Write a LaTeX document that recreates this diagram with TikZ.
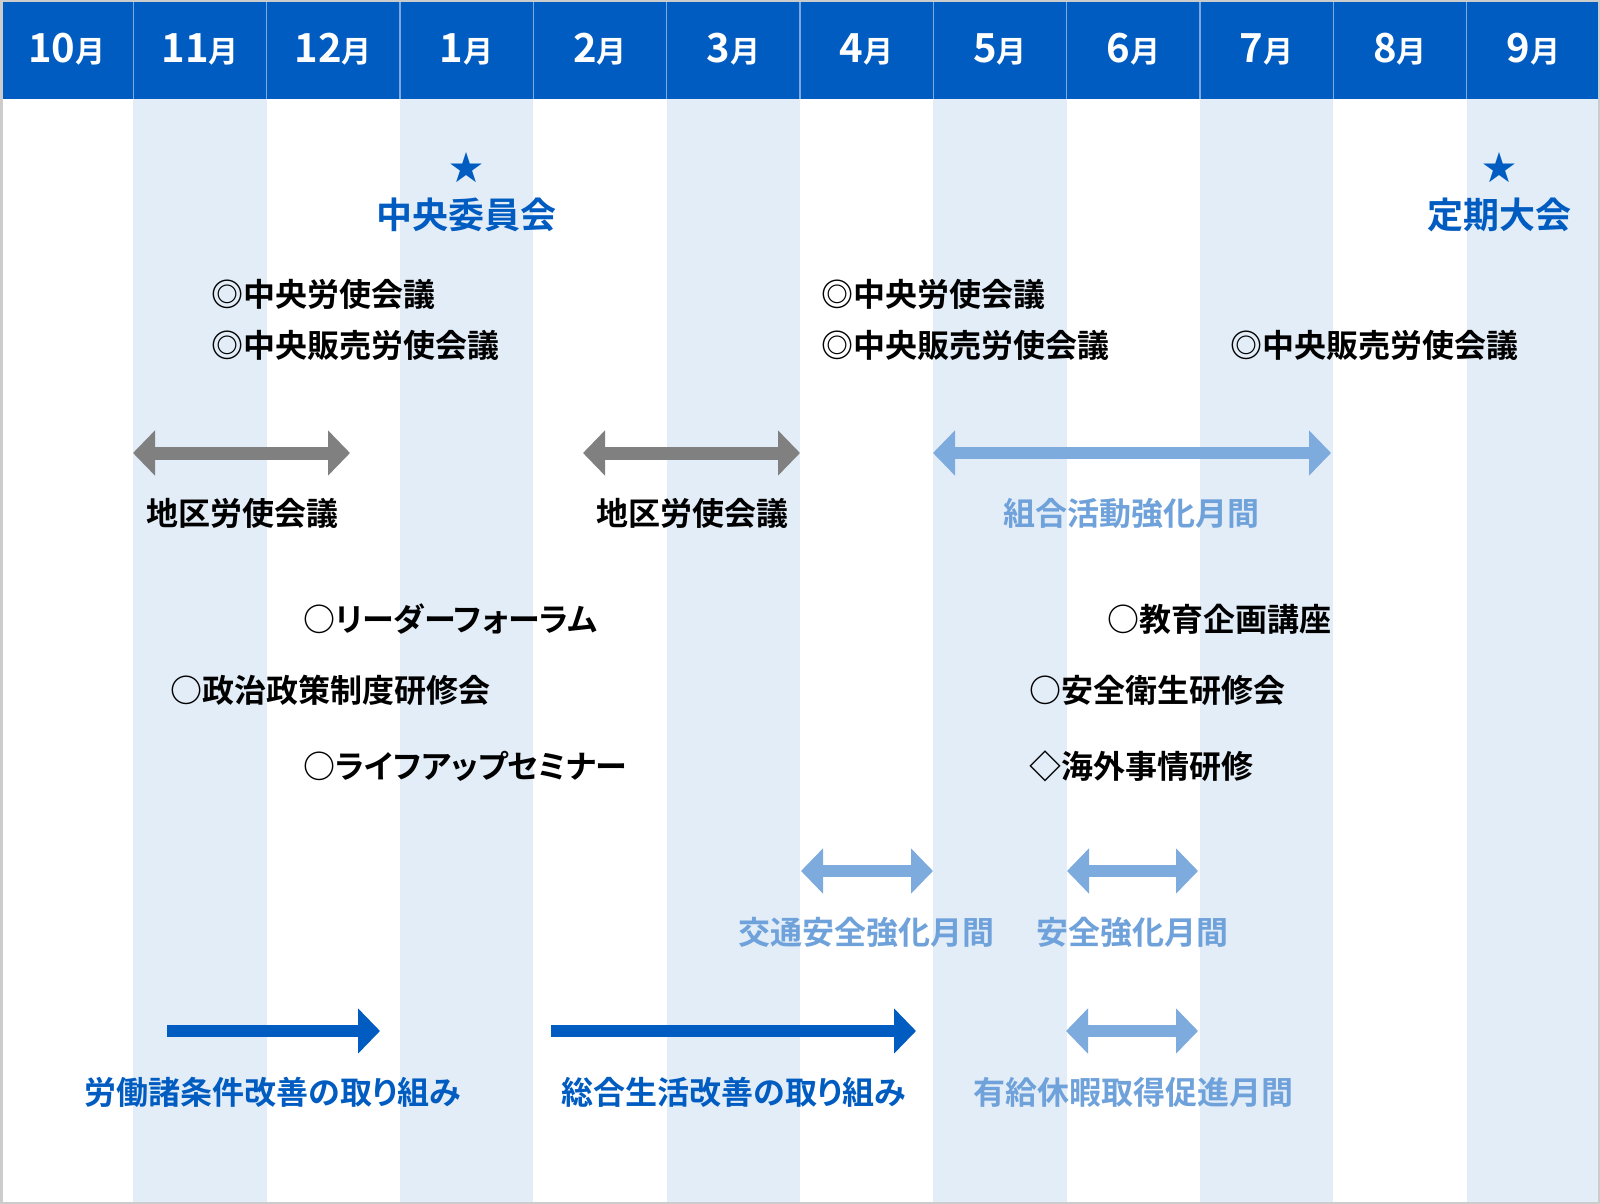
\documentclass[tikz,border=0pt]{standalone}
\usepackage{fontspec}
\setmainfont{Noto Sans CJK JP}[BoldFont={Noto Sans CJK JP Bold},RawFeature=+palt]
\usetikzlibrary{arrows.meta}
\definecolor{hdrblue}{HTML}{005CC0}
\definecolor{colshade}{HTML}{E3EDF8}
\definecolor{arrgray}{HTML}{808080}
\definecolor{ltblue}{HTML}{7DABDE}
\definecolor{lttext}{HTML}{6FA2DA}
\definecolor{sepblue}{HTML}{80A8DE}
\definecolor{frameclr}{HTML}{CCCCCC}
\tikzset{
  monthlbl/.style={text=white,font=\bfseries,inner sep=0pt},
  item/.style={font=\bfseries\fontsize{32}{32}\selectfont,inner sep=0pt,anchor=west,text=black},
  lbl/.style={font=\bfseries\fontsize{32}{32}\selectfont,inner sep=0pt},
  bigblue/.style={font=\bfseries\fontsize{36}{36}\selectfont,inner sep=0pt,text=hdrblue},
  staricon/.style={font=\fontsize{34}{34}\selectfont,inner sep=0pt,text=hdrblue},
  grayarr/.style={draw=arrgray,line width=13pt,{Triangle[length=22pt,width=44pt]}-{Triangle[length=22pt,width=44pt]}},
  ltarr/.style={draw=ltblue,line width=12pt,{Triangle[length=22pt,width=44pt]}-{Triangle[length=22pt,width=44pt]}},
  bluearr/.style={draw=hdrblue,line width=12pt,-{Triangle[length=22pt,width=44pt]}}
}
\begin{document}
\begin{tikzpicture}[x=1pt,y=-1pt]
\useasboundingbox (0,0) rectangle (1600,1204);
\fill[white] (0,0) rectangle (1600,1204);
% shaded columns
\foreach \i in {1,3,5,7,9,11}{
  \fill[colshade] ({\i*133.333},99) rectangle ({(\i+1)*133.333},1204);
}
% header
\fill[hdrblue] (0,0) rectangle (1600,99);
\foreach \i in {1,...,11}{
  \draw[sepblue,line width=1.2pt] ({\i*133.333},2) -- ({\i*133.333},99);
}
\foreach \m [count=\i from 0] in {10,11,12,1,2,3,4,5,6,7,8,9}{
  \node[monthlbl] (m\i) at ({(\i+0.5)*133.333},49) {{\fontsize{40}{40}\selectfont \m}{\fontsize{30}{30}\selectfont 月}};
}
\draw[frameclr,line width=2.5pt] (1.25,1.25) rectangle (1598.75,1202.75);

% stars
\node[staricon] (s1) at (466,168) {★};
\node[bigblue] (cc) at (466,215) {中央委員会};
\node[staricon] (s2) at (1499,168) {★};
\node[bigblue] (tk) at (1499,215) {定期大会};

% meetings
\node[item] (a1) at (211,294) {◎中央労使会議};
\node[item] (a2) at (211,345) {◎中央販売労使会議};
\node[item] (b1) at (821,294) {◎中央労使会議};
\node[item] (b2) at (821,345) {◎中央販売労使会議};
\node[item] (c2) at (1230,345) {◎中央販売労使会議};

% period arrows row 1
\coordinate (g1l) at (133,453);
\coordinate (g1r) at (350,453);
\coordinate (g2l) at (583,453);
\coordinate (g2r) at (800,453);
\coordinate (l1l) at (933,453);
\coordinate (l1r) at (1331,453);
\draw[grayarr] (g1l) -- (g1r);
\draw[grayarr] (g2l) -- (g2r);
\draw[ltarr] (l1l) -- (l1r);
\node[lbl] (t1) at (242,513) {地区労使会議};
\node[lbl] (t2) at (692,513) {地区労使会議};
\node[lbl,text=lttext] (t3) at (1131,513) {組合活動強化月間};

% seminars
\node[item] (d1) at (303,619) {○リーダーフォーラム};
\node[item] (d2) at (170,690) {○政治政策制度研修会};
\node[item] (d3) at (303,766) {○ライフアップセミナー};
\node[item] (e1) at (1107,619) {○教育企画講座};
\node[item] (e2) at (1029,690) {○安全衛生研修会};
\node[item] (e3) at (1029,766) {◇海外事情研修};

% row 2 arrows
\coordinate (l2l) at (801,871);
\coordinate (l2r) at (933,871);
\coordinate (l3l) at (1067,871);
\coordinate (l3r) at (1198,871);
\draw[ltarr] (l2l) -- (l2r);
\draw[ltarr] (l3l) -- (l3r);
\node[lbl,text=lttext] (t4) at (866,932) {交通安全強化月間};
\node[lbl,text=lttext] (t5) at (1132,932) {安全強化月間};

% row 3 arrows
\coordinate (b1l) at (167,1031);
\coordinate (b1r) at (380,1031);
\coordinate (b2l) at (551,1031);
\coordinate (b2r) at (916,1031);
\coordinate (l4l) at (1066,1031);
\coordinate (l4r) at (1198,1031);
\draw[bluearr] (b1l) -- (b1r);
\draw[bluearr] (b2l) -- (b2r);
\draw[ltarr] (l4l) -- (l4r);
\node[lbl,text=hdrblue] (t6) at (273,1092) {労働諸条件改善の取り組み};
\node[lbl,text=hdrblue] (t7) at (734,1092) {総合生活改善の取り組み};
\node[lbl,text=lttext] (t8) at (1133,1092) {有給休暇取得促進月間};
\end{tikzpicture}
\end{document}
